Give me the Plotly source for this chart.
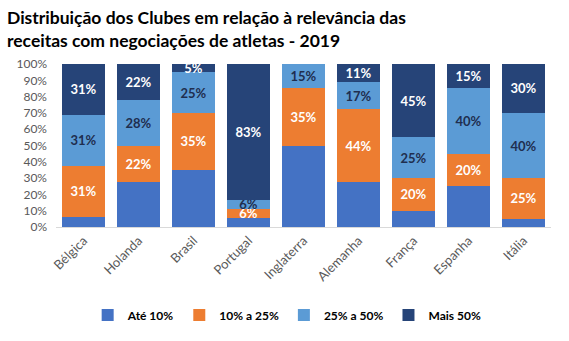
import plotly.graph_objects as go

countries = ["Bélgica", "Holanda", "Brasil", "Portugal", "Inglaterra",
             "Alemanha", "França", "Espanha", "Itália"]
series_names = ["Até 10%", "10% a 25%", "25% a 50%", "Mais 50%"]
ate10 = [6.25, 27.78, 35.0, 5.56, 50.0, 27.78, 10.0, 25.0, 5.0]
de10a25 = [31.25, 22.22, 35.0, 5.56, 35.0, 44.44, 20.0, 20.0, 25.0]
de25a50 = [31.25, 27.78, 25.0, 5.56, 15.0, 16.67, 25.0, 40.0, 40.0]
mais50 = [31.25, 22.22, 5.0, 83.33, 0.0, 11.11, 45.0, 15.0, 30.0]
title_lines = ["Distribuição dos Clubes em relação à relevância das",
               "receitas com negociações de atletas - 2019"]

colors = ["#4472C4", "#ED7D31", "#5B9BD5", "#264478"]
text_colors = ["white", "white", "#1F2E4F", "white"]
show_labels = [False, True, True, True]

fig = go.Figure()
for name, vals, col, tcol, show in zip(series_names, [ate10, de10a25, de25a50, mais50],
                                       colors, text_colors, show_labels):
    labels = [f"{round(v):.0f}%" if (show and v > 0) else "" for v in vals]
    fig.add_trace(go.Bar(
        x=countries, y=[v / 100 for v in vals], name=name,
        marker=dict(color=col, line=dict(width=0)),
        text=labels, textposition="inside", insidetextanchor="middle",
        textangle=0, constraintext="none",
        textfont=dict(family="Lato", size=13, color=tcol, weight="bold"),
    ))

fig.update_layout(
    barmode="stack",
    bargap=0.22,
    width=569, height=341,
    margin=dict(l=56, r=18, t=64, b=110),
    paper_bgcolor="white", plot_bgcolor="white",
    yaxis=dict(
        range=[0, 1], tickformat=".0%", dtick=0.1, showgrid=False,
        zeroline=False, showline=False,
        tickfont=dict(family="Lato", size=12, color="#595959"),
        ticks="", ticklabelstandoff=8,
    ),
    xaxis=dict(
        tickangle=-45, showline=True, linecolor="#D9D9D9", linewidth=1,
        tickfont=dict(family="Lato", size=13, color="#595959"),
        ticks="",
    ),
    legend=dict(
        orientation="h", x=0.467, xanchor="center", y=-0.54, yanchor="middle",
        font=dict(family="Lato", size=12, color="black", weight="bold"),
        traceorder="normal", itemwidth=30,
    ),
    annotations=[dict(
        text="<b>" + "<br>".join(title_lines) + "</b>",
        xref="paper", yref="paper", x=-56 / 495, y=1 + 60 / 167,
        xanchor="left", yanchor="top", align="left", showarrow=False,
        font=dict(family="Lato", size=17.5, color="black"),
        xshift=5,
    )],
)

fig.write_html("out.html")
